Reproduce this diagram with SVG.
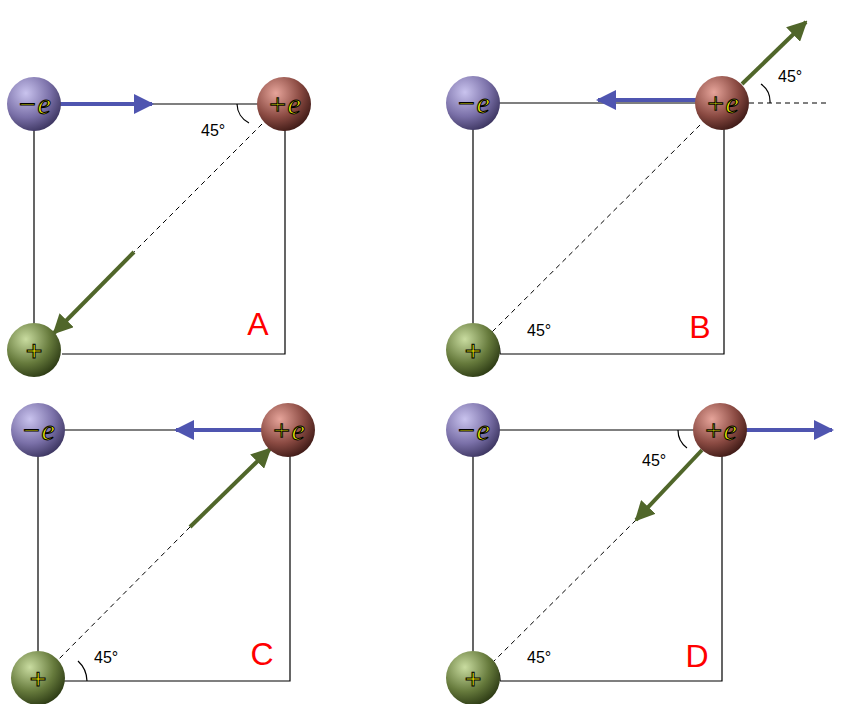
<svg xmlns="http://www.w3.org/2000/svg" width="854" height="704" viewBox="0 0 854 704">
<defs>
<radialGradient id="gn" cx="0.35" cy="0.3" r="0.75"><stop offset="0" stop-color="#c9c3ee"/><stop offset="0.6" stop-color="#7a70a8"/><stop offset="1" stop-color="#3c3560"/></radialGradient>
<radialGradient id="gp" cx="0.35" cy="0.3" r="0.75"><stop offset="0" stop-color="#e6a49a"/><stop offset="0.6" stop-color="#8a4a42"/><stop offset="1" stop-color="#3e1a16"/></radialGradient>
<radialGradient id="gg" cx="0.35" cy="0.3" r="0.75"><stop offset="0" stop-color="#c9dca0"/><stop offset="0.6" stop-color="#667a3c"/><stop offset="1" stop-color="#2c3a14"/></radialGradient>
<marker id="mb" viewBox="0 0 10 10" refX="9" refY="5" markerWidth="5" markerHeight="5" orient="auto" markerUnits="strokeWidth"><path d="M0,0L10,5L0,10z" fill="#4f55b0"/></marker>
<marker id="mg" viewBox="0 0 10 10" refX="9" refY="5" markerWidth="5" markerHeight="5" orient="auto" markerUnits="strokeWidth"><path d="M0,0L10,5L0,10z" fill="#50662a"/></marker>
</defs>
<style>
.s{fill:none;stroke:#000;stroke-width:1.2}
.d{fill:none;stroke:#000;stroke-width:1;stroke-dasharray:5,4}
.b{stroke:#4f55b0;stroke-width:4;marker-end:url(#mb)}
.g{stroke:#50662a;stroke-width:4;marker-end:url(#mg)}
.q{font-family:"Liberation Serif",serif;font-style:italic;font-size:30px;fill:#f2f000;stroke:#000;stroke-width:1;text-anchor:middle}
.t{font-family:"Liberation Sans",sans-serif;font-size:16px;fill:#000}
.L{font-family:"Liberation Sans",sans-serif;font-size:32px;fill:#f00;text-anchor:middle}
</style>
<g id="lines">
<path class="s" d="M34,104H284M34,104V350M62,354H285V104"/>
<path class="d" d="M262,124L134,252"/>
<path class="s" d="M237,104A22,22 0 0 0 249,123"/>
<path class="s" d="M473,103H722M473,103V350M500,354H724V103"/>
<path class="d" d="M749,103H830M700,125L490,334"/>
<path class="s" d="M770,103A22,22 0 0 0 761,84M500,354A22,22 0 0 0 492,336"/>
<path class="s" d="M38,430H288M38,430V678M64,681H290V430"/>
<path class="d" d="M190,527L56,662"/>
<path class="s" d="M87,681A28,28 0 0 0 78,661"/>
<path class="s" d="M473,430H720M473,430V678M500,681H722V430"/>
<path class="d" d="M636,520L490,665"/>
<path class="s" d="M500,681A22,22 0 0 0 492,663M678,430A22,22 0 0 0 687,448"/>
</g>
<g id="arrows">
<line class="b" x1="60" y1="104" x2="152" y2="104"/>
<line class="g" x1="134" y1="252" x2="54" y2="333"/>
<line class="b" x1="696" y1="100" x2="598" y2="100"/>
<line class="g" x1="742" y1="84" x2="806" y2="22"/>
<line class="b" x1="262" y1="430" x2="176" y2="430"/>
<line class="g" x1="190" y1="527" x2="270" y2="449"/>
<line class="b" x1="745" y1="430" x2="832" y2="430"/>
<line class="g" x1="702" y1="450" x2="636" y2="520"/>
</g>
<g id="A">
<circle cx="34" cy="104" r="27" fill="url(#gn)"/><text class="q" x="34" y="114">−e</text>
<circle cx="284" cy="104" r="27" fill="url(#gp)"/><text class="q" x="284" y="114">+e</text>
<circle cx="34" cy="350" r="27" fill="url(#gg)"/><text class="q" x="34" y="361" style="font-style:normal;font-weight:bold">+</text>
<text class="t" x="201" y="136">45°</text><text class="L" x="258" y="335">A</text>
</g>
<g id="B">
<circle cx="473" cy="103" r="27" fill="url(#gn)"/><text class="q" x="473" y="113">−e</text>
<circle cx="722" cy="103" r="27" fill="url(#gp)"/><text class="q" x="722" y="113">+e</text>
<circle cx="473" cy="350" r="27" fill="url(#gg)"/><text class="q" x="473" y="361" style="font-style:normal;font-weight:bold">+</text>
<text class="t" x="778" y="82">45°</text><text class="t" x="527" y="336">45°</text><text class="L" x="700" y="338">B</text>
</g>
<g id="C">
<circle cx="38" cy="430" r="27" fill="url(#gn)"/><text class="q" x="38" y="440">−e</text>
<circle cx="288" cy="430" r="27" fill="url(#gp)"/><text class="q" x="288" y="440">+e</text>
<circle cx="38" cy="678" r="27" fill="url(#gg)"/><text class="q" x="38" y="689" style="font-style:normal;font-weight:bold">+</text>
<text class="t" x="94" y="663">45°</text><text class="L" x="262" y="665">C</text>
</g>
<g id="D">
<circle cx="473" cy="430" r="27" fill="url(#gn)"/><text class="q" x="473" y="440">−e</text>
<circle cx="720" cy="430" r="27" fill="url(#gp)"/><text class="q" x="720" y="440">+e</text>
<circle cx="473" cy="678" r="27" fill="url(#gg)"/><text class="q" x="473" y="689" style="font-style:normal;font-weight:bold">+</text>
<text class="t" x="642" y="466">45°</text><text class="t" x="527" y="663">45°</text><text class="L" x="697" y="667">D</text>
</g>
</svg>
